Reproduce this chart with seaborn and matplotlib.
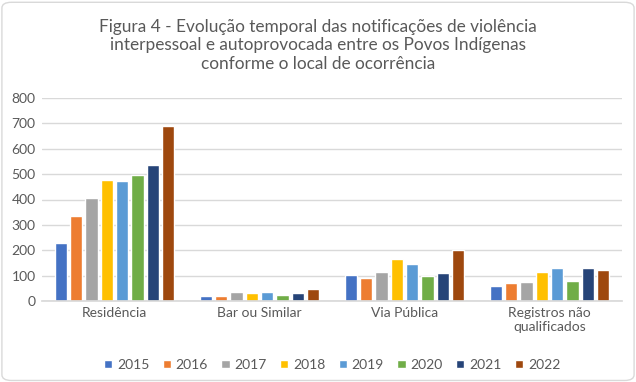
import matplotlib
matplotlib.use("Agg")
import matplotlib.pyplot as plt
import seaborn as sns
import pandas as pd
from matplotlib.patches import FancyBboxPatch

# dados
locais = ["Residência", "Bar ou Similar", "Via Pública", "Registros não\nqualificados"]
anos = ["2015", "2016", "2017", "2018", "2019", "2020", "2021", "2022"]
residencia = [229, 335, 404, 477, 473, 498, 536, 690]
bar_similar = [20, 20, 35, 30, 36, 24, 31, 47]
via_publica = [102, 92, 113, 166, 145, 97, 110, 201]
registros_nq = [58, 72, 75, 113, 129, 78, 129, 121]
cores = ["#4472C4", "#ED7D31", "#A5A5A5", "#FFC000", "#5B9BD5", "#70AD47", "#264478", "#9E480E"]

rows = []
for local, vals in zip(locais, [residencia, bar_similar, via_publica, registros_nq]):
    for ano, v in zip(anos, vals):
        rows.append({"local": local, "ano": ano, "n": v})
df = pd.DataFrame(rows)

sns.set_theme(style="white")
plt.rcParams["font.family"] = ["Lato", "DejaVu Sans"]
txt = "#595959"

fig = plt.figure(figsize=(6.36, 3.82), dpi=100)
ax = fig.add_axes([42 / 636, 1 - 301 / 382, 580 / 636, 203 / 382])

sns.barplot(data=df, x="local", y="n", hue="ano", palette=cores, order=locais,
            hue_order=anos, width=0.845, gap=0.2, saturation=1, ax=ax, legend=True)

ax.set_ylim(0, 800)
ax.set_yticks(range(0, 801, 100))
ax.set_xlim(-0.5, 3.5)
ax.grid(axis="y", color="#D9D9D9", linewidth=1)
ax.set_axisbelow(True)
for s in ["top", "right", "left"]:
    ax.spines[s].set_visible(False)
ax.spines["bottom"].set_color("#D9D9D9")
ax.tick_params(axis="both", length=0, labelsize=10, colors=txt, pad=4)
ax.tick_params(axis="y", pad=4.5)
ax.set_xlabel("")
ax.set_ylabel("")

leg = ax.legend(loc="center", bbox_to_anchor=(0.5, -0.315), ncol=8, frameon=False,
                fontsize=10, handlelength=0.6, handleheight=0.6, columnspacing=0.95,
                handletextpad=0.35, labelcolor=txt)

fig.text(0.5, 0.95, "Figura 4 - Evolução temporal das notificações de violência\n"
         "interpessoal e autoprovocada entre os Povos Indígenas\n"
         "conforme o local de ocorrência",
         ha="center", va="top", fontsize=12.4, color=txt, linespacing=1.17)

fig.patches.append(FancyBboxPatch((0.003, 0.004), 0.994, 0.99, boxstyle="round,pad=0,rounding_size=0.015",
                                  transform=fig.transFigure, fill=False, edgecolor="#D9D9D9", linewidth=1))

fig.savefig("out.png", dpi=100)
